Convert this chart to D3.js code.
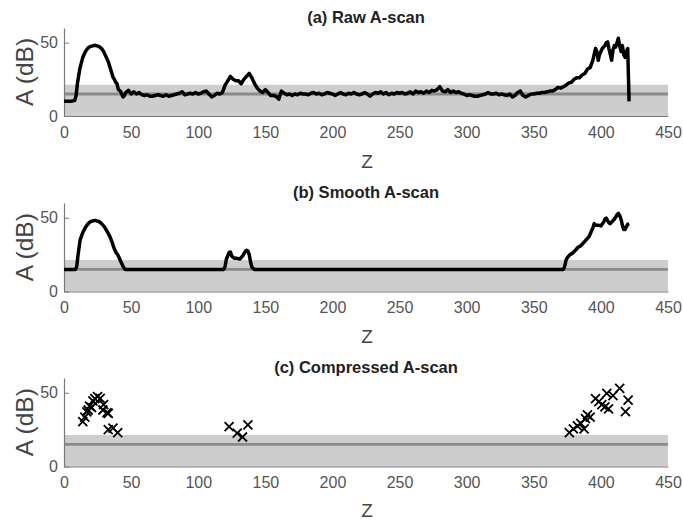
<!DOCTYPE html>
<html><head><meta charset="utf-8">
<script src="https://cdn.jsdelivr.net/npm/d3@7"></script>
<style>body{margin:0;background:#fff}svg{display:block}text{font-family:"Liberation Sans",Arial,sans-serif}</style>
</head><body>
<script>
// ---- data ----
const titles = ["(a) Raw A-scan", "(b) Smooth A-scan", "(c) Compressed A-scan"];
const xTicks = [0, 50, 100, 150, 200, 250, 300, 350, 400, 450];
const yTicks = [0, 50];
const bandLow = 0, bandHigh = 21.3, bandMean = 15;

const rawZ = [0,2,5,8,9,10,11,12,14,16,18,20,23,26,28,29.5,31,33,35,36.5,37.5,38.5,39.5,40.5,42,43,44,45,46,48,50,52,54,56,58,60,62,64,66,68,70,72,74,76,78,80,82,84,86,88,90,92,94,96,98,100,102,104,106,108,110,112,114,116,118,120,122,124,126,128,130,132,134,136,138,140,142,144,146,148,150,152,154,156,158,160,162,164,166,168,170,172,174,176,178,
180,182,184,186,188,190,192,194,196,198,200,202,204,206,208,210,212,214,216,218,220,222,224,226,228,230,232,234,236,238,240,242,244,246,248,250,252,254,256,258,260,262,264,266,268,270,272,274,276,278,280,282,284,286,288,290,292,294,296,298,300,302,304,306,308,310,312,314,316,318,320,322,324,326,328,330,332,334,336,338,340,342,344,346,348,350,352,354,356,358,360,362,364,366,368,370,372,374,376,378,380,382,384,386,388,390,392,394,395,396,397,398,399,400,401,402,403,404,405,406,407,408,409,410,411,412,413,414,415,416,417,418,419,420,421];
const rawA = [10,10,10,10.5,14,22,28,33,40,44,46.5,47.5,48.2,47.5,46,44,41,37,31,26.5,25,23,22,18,17,15,13,14,16,17.5,15,16.5,15,16,14.5,14,14.5,13.5,13.5,14,14.5,14,13.5,14.5,13.5,14,14.5,15,15.5,16.5,14.5,15,15.5,15,16,15,15.5,16.5,17,15,13,14,15.5,15,16,21,24,27,25,24,24,22,25,27,29,26,22,19,17,16,18,16,14,14,13.5,11.5,17,15.5,14.5,15,14,15,14.5,15.5,15,
15,14.5,15.5,16,15,15.5,14.5,15,16,15.5,15,14,15,16,15,14.5,15.5,15,16,15,14.5,15,16,15,13.5,15,16,15.5,16.5,15,16,14.5,15.5,15,16,15.5,16,15,15.5,16.5,15,17,16,16.5,15.5,17,16,17.5,17,18,20,17,16.5,18,16,17,16,16.5,15.5,15,14,14.5,14,13.5,13.5,14,14.5,15,16,15,15,15.5,14.5,15,14.5,14,15,13,14,16,17,14,13,14,15,15,15.5,15.5,16,16,16.5,17,17,18,19.5,19,20,21,22.5,23,25,26,26,28,29,32,33,38,42,46,44,38,42,44,46,47,48,50,50.5,46,42,38,45,48,47,50,53,48,44,48,42,40,44,46,10];

const smoothZ = [0,8.5,9.5,10.5,12,14,16,18,20,23,26,28,30,32,34.3,36,37,38,39,40,41,42,43,44,45.5,119,120,121,123,124,125,127,129,131,133,135,136,137,138,139,140,141,142,372,373,374,375,377,379,381,383,385,387,389,391,392,393,394,395,396,398,400,402,403,404,405,406,407,408,410,412,413,414,415,416,417,418,419,420,421];
const smoothA = [15,15,17,25,35,40,43.5,46,47.5,48.2,47.5,46,44,41,37,33,30,28,26,25,23,21,19,17,15,15,17,22,26.5,26.8,24,22.5,22.5,22,24,27,28,27.5,25,20,16.5,15.5,15,15,17,21,23,25,26,28,30,31,33,35,37,39,41,43,46,45,45,44.5,47,49,49.7,48,46.5,46,47,49,52,53,51.5,49,45,42,42,44,45.5,46];

const compZ = [14,15.5,17,18,19,20.5,21.5,23,25,27,29.5,29,32,33,33,36.5,40,123,129,133,137,376.5,379.5,382.5,385,387.5,388.5,390,392,396,398.5,400.7,403,405.7,404.4,409,414,418.3,420.3];
const compA = [30.4,33.5,37,38.3,41,40,44.5,46,47.3,46.2,42,38.3,36.5,36,25,26,23,27,22.6,20,28.2,23,25.5,27.5,29.3,25.5,32.5,35,33.5,46,44,42,40.5,39,49.6,48,53,37.2,45];

// ---- layout ----
const W = 683, H = 521;
const x0 = 64, x1 = 668;
const panels = [
  {top: 28, bottom: 116, titleY: 23, tickY: 138, zY: 168},
  {top: 203, bottom: 291.5, titleY: 198, tickY: 312.5, zY: 343},
  {top: 378, bottom: 466.5, titleY: 373, tickY: 488, zY: 517}
];

const svg = d3.select("body").append("svg").attr("width", W).attr("height", H);
const x = d3.scaleLinear().domain([0, 450]).range([x0, x1]);

panels.forEach((p, i) => {
  const y = d3.scaleLinear().domain([0, 60]).range([p.bottom, p.top]);
  const g = svg.append("g");
  // band
  g.append("rect").attr("x", x(0)).attr("width", x(450) - x(0))
    .attr("y", y(bandHigh)).attr("height", y(bandLow) - y(bandHigh))
    .attr("fill", "#cdcdcd");
  g.append("line").attr("x1", x(0)).attr("x2", x(450))
    .attr("y1", y(bandMean)).attr("y2", y(bandMean))
    .attr("stroke", "#8a8a8a").attr("stroke-width", 2.8);
  // axes
  const yAx = g.append("g").attr("transform", `translate(${x0},0)`)
    .call(d3.axisLeft(y).tickValues(yTicks).tickSize(-5).tickPadding(4).tickSizeOuter(0));
  yAx.select(".domain").attr("stroke", "#7a7a7a").attr("stroke-width", 1.2);
  yAx.selectAll(".tick line").attr("stroke", "#7a7a7a");
  yAx.selectAll(".tick text").attr("font-size", 16).attr("fill", "#555").attr("dx", "-2");
  const xAx = g.append("g").attr("transform", `translate(0,${p.bottom})`)
    .call(d3.axisBottom(x).tickValues(xTicks).tickSize(0).tickPadding(0).tickSizeOuter(0));
  xAx.select(".domain").attr("stroke", "#7a7a7a").attr("stroke-width", 1.2);
  xAx.selectAll(".tick text").attr("font-size", 16).attr("fill", "#555")
    .attr("dy", null).attr("y", p.tickY - p.bottom);
  // labels
  g.append("text").attr("x", 366).attr("y", p.titleY).attr("text-anchor", "middle")
    .attr("font-weight", "bold").attr("font-size", 16.5).attr("fill", "#222").text(titles[i]);
  g.append("text").attr("x", 367).attr("y", p.zY).attr("text-anchor", "middle")
    .attr("font-size", 19).attr("fill", "#444").text("Z");
  g.append("text").attr("transform", `translate(33,${(p.top + p.bottom) / 2}) rotate(-90)`)
    .attr("text-anchor", "middle").attr("font-size", 24.5).attr("fill", "#444").text("A (dB)");

  const line = d3.line().x(d => x(d[0])).y(d => y(d[1]));
  if (i === 0) {
    g.append("path").datum(d3.zip(rawZ, rawA)).attr("d", line)
      .attr("fill", "none").attr("stroke", "#000").attr("stroke-width", 3.5).attr("stroke-linejoin", "round");
  } else if (i === 1) {
    g.append("path").datum(d3.zip(smoothZ, smoothA)).attr("d", line)
      .attr("fill", "none").attr("stroke", "#000").attr("stroke-width", 3.5).attr("stroke-linejoin", "round");
  } else {
    const r = 4.5;
    g.selectAll("path.mk").data(d3.zip(compZ, compA)).join("path").attr("class", "mk")
      .attr("transform", d => `translate(${x(d[0])},${y(d[1])})`)
      .attr("d", `M${-r},${-r}L${r},${r}M${-r},${r}L${r},${-r}`)
      .attr("stroke", "#000").attr("stroke-width", 1.8).attr("fill", "none");
  }
});
</script>
</body></html>
